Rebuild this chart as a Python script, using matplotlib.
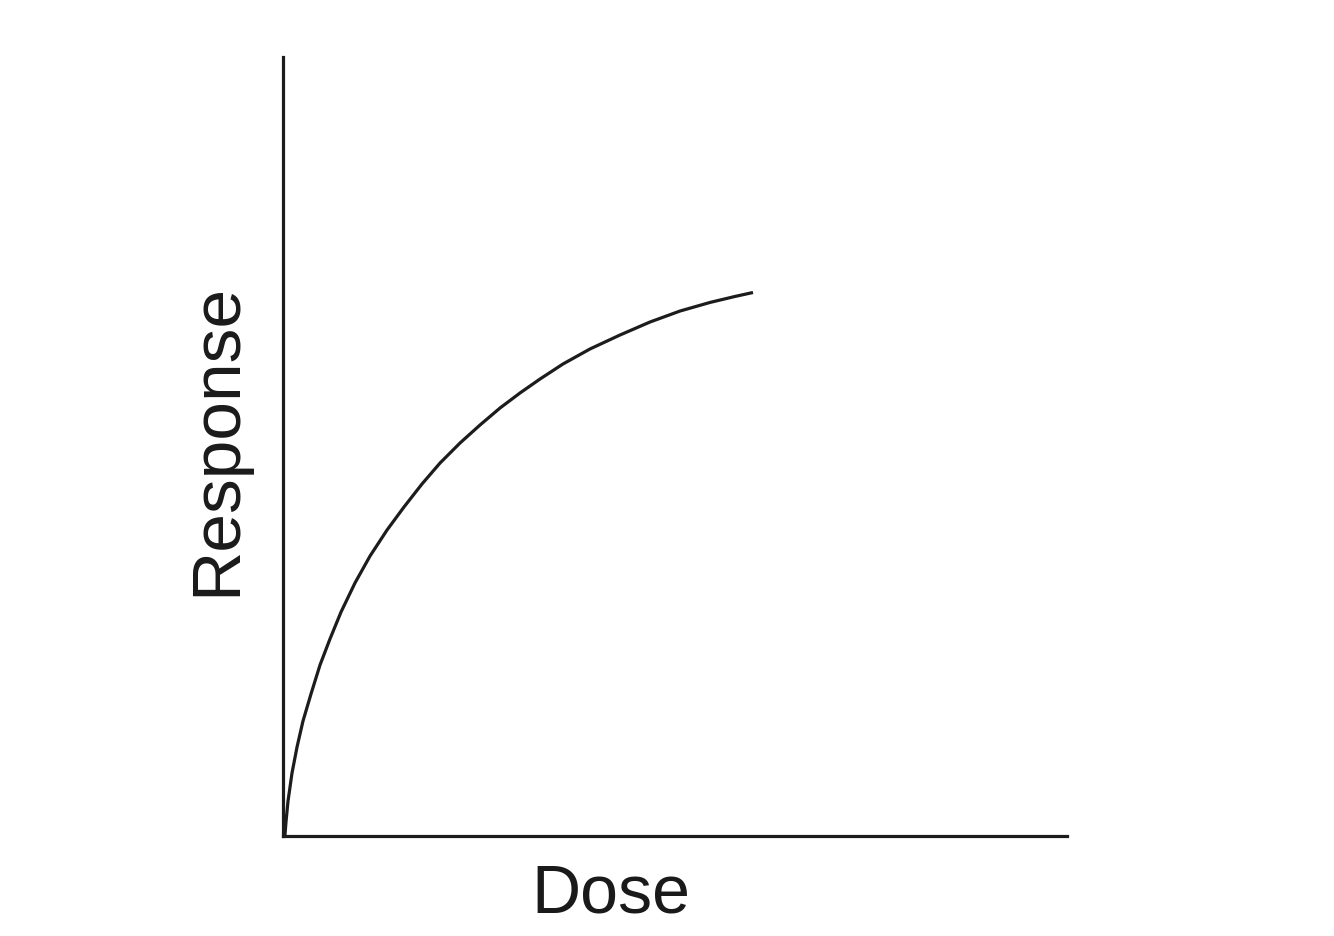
import matplotlib
matplotlib.use("Agg")
import matplotlib.pyplot as plt

# curve (axes span 0..100 in both directions)
dose = [0.25, 0.38, 0.64, 1.15, 1.79, 2.55, 3.57, 4.72, 5.99, 7.40, 9.18, 11.10,
        13.27, 15.43, 17.73, 20.03, 22.58, 25.13, 27.68, 30.23, 32.78, 35.71,
        39.16, 42.98, 46.81, 50.64, 54.46, 57.65, 59.95]
response = [0.10, 1.80, 4.49, 8.09, 11.43, 14.76, 18.23, 21.95, 25.29, 28.75, 32.48, 35.94,
            39.28, 42.23, 45.19, 47.88, 50.45, 52.76, 54.94, 56.87, 58.66, 60.59,
            62.52, 64.31, 65.98, 67.39, 68.49, 69.26, 69.77]

plt.rcParams['font.family'] = ['Liberation Sans', 'DejaVu Sans']
line_color = '#1c1c1c'

fig = plt.figure(figsize=(13.34, 9.36), dpi=100)
# axes from x=283..1067 px, y=57..836 px
ax = fig.add_axes([283 / 1334, 100 / 936, 784 / 1334, 779 / 936])
ax.plot(dose, response, color=line_color, linewidth=2.3,
        solid_capstyle='butt', solid_joinstyle='round')

ax.set_xlim(0, 100)
ax.set_ylim(0, 100)
ax.set_xticks([])
ax.set_yticks([])
for side in ['top', 'right']:
    ax.spines[side].set_visible(False)
for side in ['left', 'bottom']:
    ax.spines[side].set_color(line_color)
    ax.spines[side].set_linewidth(2.3)

fig.text(0.458, 0.0256, "Dose", fontsize=49, ha='center', va='baseline', color='#1a1a1a')
fig.text(0.1627, 0.530, "Response", fontsize=50, rotation=90, ha='center', va='center',
         color='#1a1a1a')

fig.savefig("out.png", dpi=100, facecolor='white')
